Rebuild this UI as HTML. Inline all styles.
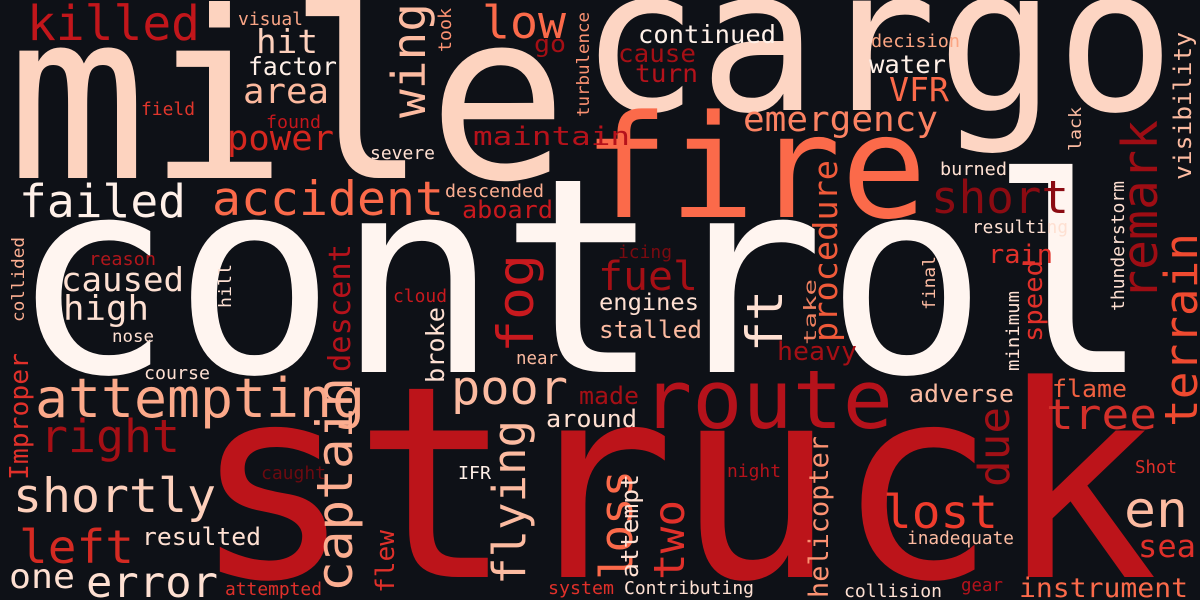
<!DOCTYPE html>
<html><head><meta charset="utf-8"><style>
html,body{margin:0;padding:0;background:#0e1117;width:1200px;height:600px;overflow:hidden;}
svg{display:block;}
text{font-family:"DejaVu Sans Mono","Liberation Mono",monospace;}
</style></head>
<body>
<svg id="cloud" width="1200" height="600" viewBox="0 0 1200 600" xmlns="http://www.w3.org/2000/svg" style="overflow:hidden">
<rect width="1200" height="600" fill="#0e1117"/>
</svg>
<script>
// horizontal words: text, x, baseline, fontSize, color, textLength
const hWords = [
["control",10,372,272,"#fff5f0",1141],
["struck",192,577,268,"#bc141a",966],
["mile",7,178,233,"#fdd3bf",561],
["cargo",580,110,200,"#fdd5c3",595],
["fire",583,217,143,"#fb6a4a",344],
["route",642,428,81,"#b5121b",251],
["killed",27,40,48,"#c2161b",173],
["visual",238,25,18,"#f9a586",65],
["hit",256,53,33,"#fdd0bc",62],
["factor",248,75,25,"#fff0e8",89],
["area",243,103,35,"#fcb99e",86],
["field",141,115,18,"#e0362c",54],
["found",266,128,18,"#c4161c",55],
["power",227,150,35,"#d5271f",107],
["severe",370,159,18,"#fee0d2",65],
["low",482,38,45,"#fb6a4a",84],
["go",534,52,24,"#a50f15",32],
["maintain",473,145,26,"#b5121b",157],
["failed",19,217,45,"#fff0e8",167],
["accident",212,215,47,"#fb6a4a",232],
["descended",445,197,18,"#fcae91",99],
["aboard",462,218,24,"#c8191e",91],
["reason",89,265,18,"#b0161b",67],
["caused",61,291,33,"#fee0d2",123],
["cloud",393,302,18,"#c8191e",54],
["continued",638,43,25,"#fff0e8",138],
["cause",618,62,25,"#a50f15",78],
["turn",635,82,25,"#b5121b",63],
["decision",871,47,18,"#fca582",89],
["water",869,73,25,"#fff0e8",77],
["VFR",889,101,33,"#fb6a4a",60],
["emergency",743,131,35,"#fc8262",195],
["burned",940,175,18,"#fee0d2",67],
["short",931,213,45,"#8b0b12",138],
["resulting",972,233,18,"#fee0d2",96],
["rain",988,263,26,"#e0302a",65],
["icing",618,258,18,"#7a0a10",54],
["fuel",598,290,40,"#a50f15",100],
["engines",599,310,23,"#fee0d2",100],
["stalled",599,338,24,"#fcbba1",103],
["heavy",777,360,26,"#a50f15",80],
["adverse",909,402,24,"#fcbba1",105],
["flame",1052,397,24,"#f06040",75],
["tree",1046,429,42,"#d4302a",111],
["night",727,477,18,"#b5121b",54],
["Shot",1135,473,18,"#e0302a",42],
["en",1124,527,50,"#fcbba1",64],
["sea",1138,557,31,"#e0302a",58],
["lost",883,528,46,"#ef3b2c",115],
["inadequate",907,544,18,"#fcbba1",107],
["Contributing",624,594,18,"#fee0d2",130],
["collision",844,597,18,"#fee0d2",98],
["gear",961,591,18,"#b5121b",42],
["instrument",1019,597,27,"#fb6a4a",169],
["high",63,320,34,"#fee0d2",86],
["nose",112,342,17,"#fee0d2",42],
["course",144,379,18,"#fee0d2",66],
["attempting",35,417,54,"#fca98a",330],
["right",40,452,45,"#a50f15",140],
["shortly",13,512,47,"#fdd0bc",203],
["caught",261,479,18,"#6b0a10",65],
["IFR",458,479,18,"#fff0e8",33],
["left",19,563,46,"#d42a22",115],
["resulted",142,545,24,"#fee0d2",119],
["one",9,588,34,"#fee0d2",66],
["error",86,597,43,"#fee0d2",132],
["attempted",225,595,18,"#e0302a",97],
["near",516,364,18,"#fcbba1",42],
["poor",451,404,47,"#fcbba1",117],
["made",579,404,24,"#a50f15",60],
["around",546,427,24,"#fee0d2",91],
["system",548,594,18,"#e0302a",66]
];
// vertical words (rotated -90): text, baselineX, bottomY, fontSize, color, length
const vWords = [
["wing",425,118,46,"#fcbba1",115],
["took",451,52,18,"#fc9272",44],
["turbulence",589,117,17,"#fc9272",105],
["collided",24,322,17,"#fcae91",85],
["hill",231,308,17,"#fee0d2",44],
["descent",350,372,30,"#b5121b",128],
["fog",533,353,50,"#c8191e",99],
["lack",1081,151,17,"#fcbba1",44],
["remark",1157,300,49,"#9e0d14",180],
["visibility",1191,180,24,"#fcbba1",148],
["procedure",837,342,33,"#f05a3a",182],
["take",816,345,17,"#f08060",66],
["final",935,310,17,"#fcbba1",54],
["speed",1042,342,26,"#e0302a",82],
["thunderstorm",1124,311,18,"#fee0d2",130],
["terrain",1197,427,45,"#ef4a30",194],
["ft",782,352,50,"#fee0d2",62],
["minimum",1019,371,18,"#fee0d2",80],
["due",1009,487,43,"#a01016",80],
["helicopter",828,598,27,"#fc9272",162],
["loss",632,580,45,"#fb6a4a",110],
["attempt",638,578,24,"#fee0d2",104],
["two",684,580,43,"#e0302a",80],
["Improper",28,480,26,"#e0302a",127],
["captain",352,592,50,"#fcae91",215],
["flew",394,593,26,"#e0302a",63],
["broke",444,383,25,"#fee0d2",76],
["flying",525,585,45,"#fcbba1",165]
];
const NS = "http://www.w3.org/2000/svg";
const svg = document.getElementById("cloud");
hWords.forEach(w => {
  const t = document.createElementNS(NS, "text");
  
  
  t.setAttribute("x", w[1]);
  t.setAttribute("y", w[2]);
  t.setAttribute("font-size", w[3]);
  t.setAttribute("fill", w[4]);
  t.setAttribute("textLength", w[5]);
  t.setAttribute("lengthAdjust", "spacingAndGlyphs");
  t.textContent = w[0];
  svg.appendChild(t);
});
vWords.forEach(w => {
  const t = document.createElementNS(NS, "text");
  
  
  t.setAttribute("x", 0);
  t.setAttribute("y", 0);
  t.setAttribute("transform", "translate(" + w[1] + "," + w[2] + ") rotate(-90)");
  t.setAttribute("font-size", w[3]);
  t.setAttribute("fill", w[4]);
  t.setAttribute("textLength", w[5]);
  t.setAttribute("lengthAdjust", "spacingAndGlyphs");
  t.textContent = w[0];
  svg.appendChild(t);
});
</script>
</body></html>
